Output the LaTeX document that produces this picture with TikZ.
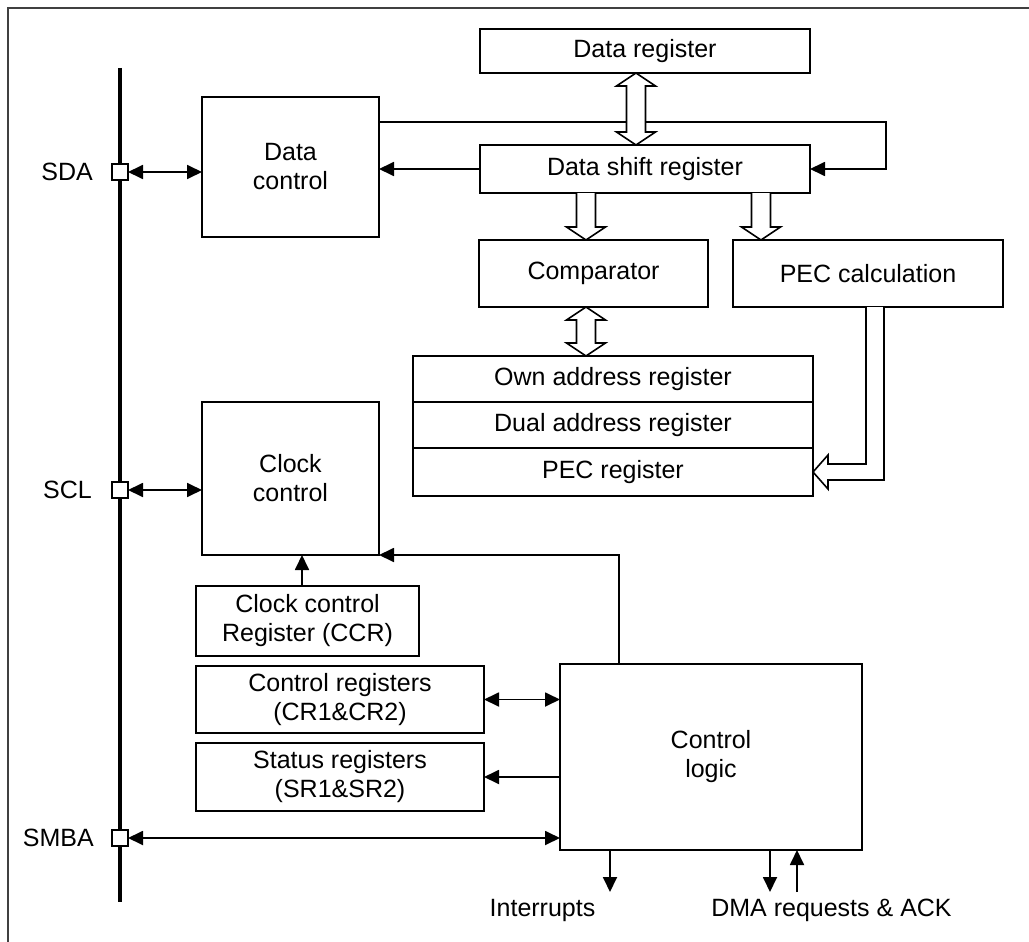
\documentclass[tikz,border=0pt]{standalone}
\usepackage{fontspec}
\setmainfont{Liberation Sans}
\usetikzlibrary{arrows.meta,calc}

% vertical hollow double arrow between two points on the same vertical
\newcommand\hollowdbl[2]{%
  \draw[hollow] (#1) -- ++(19.5,13) -- ++(-10,0) -- ($(#2)+(9.5,-13)$)
    -- ++(10,0) -- (#2) -- ++(-19.5,-13) -- ++(10,0)
    -- ($(#1)+(-9.5,13)$) -- ++(-10,0) -- cycle;}
% vertical hollow arrow pointing down from #1 to #2
\newcommand\hollowdown[2]{%
  \draw[hollow] ($(#1)+(9.5,0)$) -- ($(#2)+(9.5,-13)$) -- ++(10,0) -- (#2)
    -- ++(-19.5,-13) -- ++(10,0) -- ($(#1)+(-9.5,0)$);}

\begin{document}
\begin{tikzpicture}[x=1pt,y=-1pt,
  every node/.style={font=\fontsize{25}{29}\selectfont},
  blk/.style={draw,line width=1.8pt,inner sep=0pt,outer sep=0pt,align=center},
  pinbox/.style={draw,fill=white,line width=1.6pt,minimum size=16pt,inner sep=0pt,outer sep=0pt},
  arr/.style={line width=1.8pt,-{Triangle[length=15pt,width=14pt]}},
  dbl/.style={line width=1.8pt,{Triangle[length=15pt,width=14pt]}-{Triangle[length=15pt,width=14pt]}},
  hollow/.style={draw,line width=1.6pt,fill=white,line join=miter},
  lbl/.style={inner sep=0pt}]
\useasboundingbox (0,0) rectangle (1029,942);

% outer frame
\draw[line width=2pt,black!75] (8,942) -- (8,8) -- (1029,8);

% blocks
\node[blk,minimum width=330pt,minimum height=44pt] (dr)  at (645,51)    {Data register};
\node[blk,minimum width=330pt,minimum height=48pt] (dsr) at (645,169)   {Data shift register};
\node[blk,minimum width=177pt,minimum height=140pt] (dc) at (290.5,167) {Data\\control};
\node[blk,minimum width=229pt,minimum height=67pt] (cmp) at (593.5,273.5) {Comparator};
\node[blk,minimum width=270pt,minimum height=67pt] (pecc) at (868,273.5) {PEC calculation};
\node[blk,minimum width=400pt,minimum height=46pt] (own)  at (613,379) {Own address register};
\node[blk,minimum width=400pt,minimum height=46pt] (dual) at (613,425) {Dual address register};
\node[blk,minimum width=400pt,minimum height=48pt] (pecr) at (613,472) {PEC register};
\node[blk,minimum width=177pt,minimum height=153pt] (cc) at (290.5,478.5) {Clock\\control};
\node[blk,minimum width=223pt,minimum height=70pt] (ccr) at (307.5,621) {Clock control\\Register (CCR)};
\node[blk,minimum width=288pt,minimum height=67pt] (cr) at (340,699.5) {Control registers\\(CR1\&CR2)};
\node[blk,minimum width=288pt,minimum height=68pt] (sr) at (340,777) {Status registers\\(SR1\&SR2)};
\node[blk,minimum width=302pt,minimum height=186pt] (cl) at (711,757) {Control\\logic};

% bus and pins
\coordinate (busTop) at (120,68);
\coordinate (busBot) at (120,902);
\draw[line width=4pt] (busTop) -- (busBot);
\node[pinbox] (sda)  at (120,172) {};
\node[pinbox] (scl)  at (120,490) {};
\node[pinbox] (smba) at (120,838) {};
\node[lbl,anchor=east] (sdaL)  at (93,172) {SDA};
\node[lbl,anchor=east] (sclL)  at (92,490) {SCL};
\node[lbl,anchor=east] (smbaL) at (94,838) {SMBA};

% pin connections
\draw[dbl] (sda.east) -- (sda.east -| dc.west);
\draw[dbl] (scl.east) -- (scl.east -| cc.west);
\draw[dbl] (smba.east) -- (smba.east -| cl.west);

% data path
\coordinate (loopR) at (886,122);
\draw[arr] (dc.east |- loopR) -- (loopR) |- (dsr.east);
\draw[arr] (dsr.west) -- (dsr.west -| dc.east);

\coordinate (hA) at (636,0);
\coordinate (hB) at (586,0);
\coordinate (hC) at (761,0);
\hollowdbl{dr.south -| hA}{dsr.north -| hA}
\hollowdown{dsr.south -| hB}{cmp.north -| hB}
\hollowdown{dsr.south -| hC}{pecc.north -| hC}
\hollowdbl{cmp.south -| hB}{own.north -| hB}

% PEC calculation to PEC register
\coordinate (pA) at (866,0);
\coordinate (pB) at (884,0);
\draw[hollow] (pecc.south -| pA) -- ($(pecr.east -| pA)+(0,-8)$)
  -- ($(pecr.east)+(15,-8)$) -- ($(pecr.east)+(15,-17)$) -- (pecr.east)
  -- ($(pecr.east)+(15,17)$) -- ($(pecr.east)+(15,8)$)
  -- ($(pecr.east -| pB)+(0,8)$) -- (pecc.south -| pB);

% clock path
\coordinate (ccrX) at (302,0);
\draw[arr] (ccr.north -| ccrX) -- (cc.south -| ccrX);
\coordinate (clX) at (619,0);
\draw[arr] (cl.north -| clX) |- (cc.south east);

% register links
\draw[dbl] (cr.east) -- (cr.east -| cl.west);
\draw[arr] (sr.east -| cl.west) -- (sr.east);

% outputs of the control logic
\node[lbl] (intL) at (542.5,910) {Interrupts};
\node[lbl] (dmaL) at (831.5,910) {DMA requests \& ACK};
\coordinate (intE) at (610,892);
\coordinate (dmaD) at (770,892);
\coordinate (dmaU) at (797,892);
\draw[arr] (cl.south -| intE) -- (intE);
\draw[arr] (cl.south -| dmaD) -- (dmaD);
\draw[arr] (dmaU) -- (cl.south -| dmaU);
\end{tikzpicture}
\end{document}
